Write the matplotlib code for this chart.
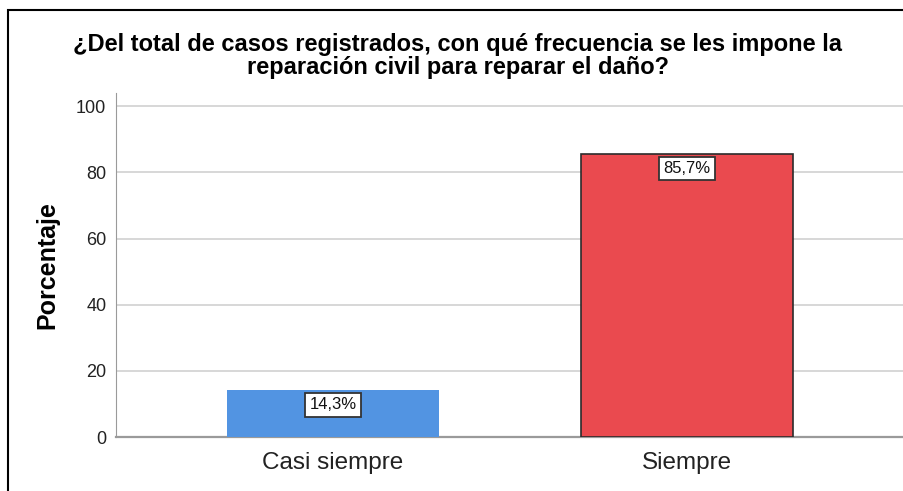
import matplotlib.pyplot as plt
from matplotlib.patches import Rectangle

plt.rcParams['font.family'] = ['Liberation Sans', 'DejaVu Sans']

categorias = ['Casi siempre', 'Siempre']
porcentajes = [14.3, 85.7]
etiquetas = ['14,3%', '85,7%']
colores = ['#5294e2', '#ea4a4f']
titulo = '¿Del total de casos registrados, con qué frecuencia se les impone la\nreparación civil para reparar el daño?'

fig = plt.figure(figsize=(9.04, 4.91), dpi=100)
ax = fig.add_axes([116 / 904, 1 - 437 / 491, 1 - 116 / 904, (437 - 93) / 491])

x = list(range(len(categorias)))
bars = ax.bar(x, porcentajes, width=0.6, color=colores, zorder=3)
bars[1].set_edgecolor('#2b2b2b')
bars[1].set_linewidth(1.2)

for xi, v, lab in zip(x, porcentajes, etiquetas):
    ax.annotate(lab, (xi, v), xytext=(0, -11), textcoords='offset points',
                ha='center', va='center', fontsize=12, zorder=5, color='#111111',
                bbox=dict(boxstyle='square,pad=0.25', fc='white', ec='#333333', lw=1.3))

ax.set_xlim(-0.612, 1.612)
ax.set_ylim(0, 104)
ax.set_yticks([0, 20, 40, 60, 80, 100])
ax.set_xticks(x)
ax.set_xticklabels(categorias, fontsize=17.5, color='#222222')
ax.tick_params(axis='y', length=0, labelsize=13, pad=7, colors='#222222')
ax.tick_params(axis='x', length=0, pad=11)
ax.yaxis.grid(True, color='#d4d4d4', lw=1.3, zorder=0)
for s in ['top', 'right']:
    ax.spines[s].set_visible(False)
ax.spines['left'].set_color('#9a9a9a')
ax.spines['bottom'].set_color('#9a9a9a')
ax.spines['bottom'].set_linewidth(1.6)
ax.set_ylabel('Porcentaje', fontsize=18, fontweight='bold', labelpad=12)

fig.text(458 / 904, 1 - 56 / 491, titulo, ha='center', va='center',
         fontsize=17, fontweight='bold', linespacing=0.97)

fig.add_artist(Rectangle((8 / 904, -0.1), 1.2, 1 - 10 / 491 + 0.1,
                         transform=fig.transFigure, fill=False, ec='black', lw=1.5))

fig.savefig('out.png', dpi=100)
